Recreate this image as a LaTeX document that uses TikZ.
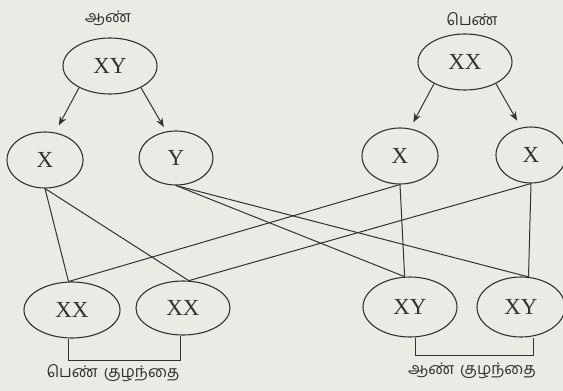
\documentclass[tikz,border=0pt]{standalone}
\usepackage{fontspec}
\setmainfont{Liberation Serif}
\newfontfamily\tamilfont[Script=Tamil]{Hind Madurai}
\usetikzlibrary{shapes.geometric,arrows.meta}
\definecolor{paper}{RGB}{236,234,229}
\definecolor{ink}{RGB}{50,50,50}
\tikzset{
  cell/.style={ellipse,draw=ink,line width=1.1pt,inner sep=0pt,text=ink,font=\fontsize{23}{23}\selectfont},
  link/.style={draw=ink,line width=1pt},
  arr/.style={draw=ink,line width=1pt,-{Stealth[length=9pt,width=7pt]}},
  tlabel/.style={text=ink,font=\tamilfont\fontsize{16}{18}\selectfont,inner sep=0pt}
}
\begin{document}
\begin{tikzpicture}[x=1pt,y=-1pt]
\fill[paper] (0,0) rectangle (563,391);
\useasboundingbox (0,0) rectangle (563,391);
% parents
\node[tlabel] (fl) at (108,18) {ஆண்};
\node[tlabel] (ml) at (472,19) {பெண்};
\node[cell,minimum width=94pt,minimum height=56pt] (F) at (110,66) {XY};
\node[cell,minimum width=94pt,minimum height=56pt] (M) at (465,62) {XX};
% gametes
\node[cell,minimum width=76pt,minimum height=56pt] (FX) at (45,160) {X};
\node[cell,minimum width=74pt,minimum height=54pt] (FY) at (176,158) {Y};
\node[cell,minimum width=76pt,minimum height=56pt] (MX1) at (400,156) {X};
\node[cell,minimum width=70pt,minimum height=56pt] (MX2) at (531,155) {X};
% children
\node[cell,minimum width=96pt,minimum height=56pt] (XX1) at (72,310) {XX};
\node[cell,minimum width=94pt,minimum height=54pt] (XX2) at (183,308) {XX};
\node[cell,minimum width=94pt,minimum height=60pt] (XY1) at (410,307) {XY};
\node[cell,minimum width=88pt,minimum height=60pt] (XY2) at (521,307) {XY};
% arrows
\draw[arr,shorten >=8pt] (F.215) -- (FX.70);
\draw[arr,shorten >=5pt] (F.325) -- (FY.110);
\draw[arr,shorten >=7pt] (M.215) -- (MX1.70);
\draw[arr,shorten >=8pt] (M.325) -- (MX2.110);
% crosses
\draw[link] (FX.south) -- (XX1.97);
\draw[link] (FX.south) -- (XX2.78);
\draw[link] (FY.south) -- (XY1.100);
\draw[link] (FY.south) -- (XY2.76);
\draw[link] (MX1.south) -- (XX1.97);
\draw[link] (MX1.south) -- (XY1.100);
\draw[link] (MX2.south) -- (XX2.78);
\draw[link] (MX2.south) -- (XY2.76);
% brackets
\coordinate (b1) at (68,360);
\coordinate (b2) at (180,360);
\draw[link] (XX1.south -| b1) -- (b1) -- (b2) -- (XX2.south -| b2);
\coordinate (b3) at (415,355);
\coordinate (b4) at (533,355);
\draw[link] (XY1.south -| b3) -- (b3) -- (b4) -- (XY2.south -| b4);
\node[tlabel] (gl) at (113,373) {பெண்\hspace{6pt}குழந்தை};
\node[tlabel] (bl) at (472,371) {ஆண்\hspace{6pt}குழந்தை};
\end{tikzpicture}
\end{document}
